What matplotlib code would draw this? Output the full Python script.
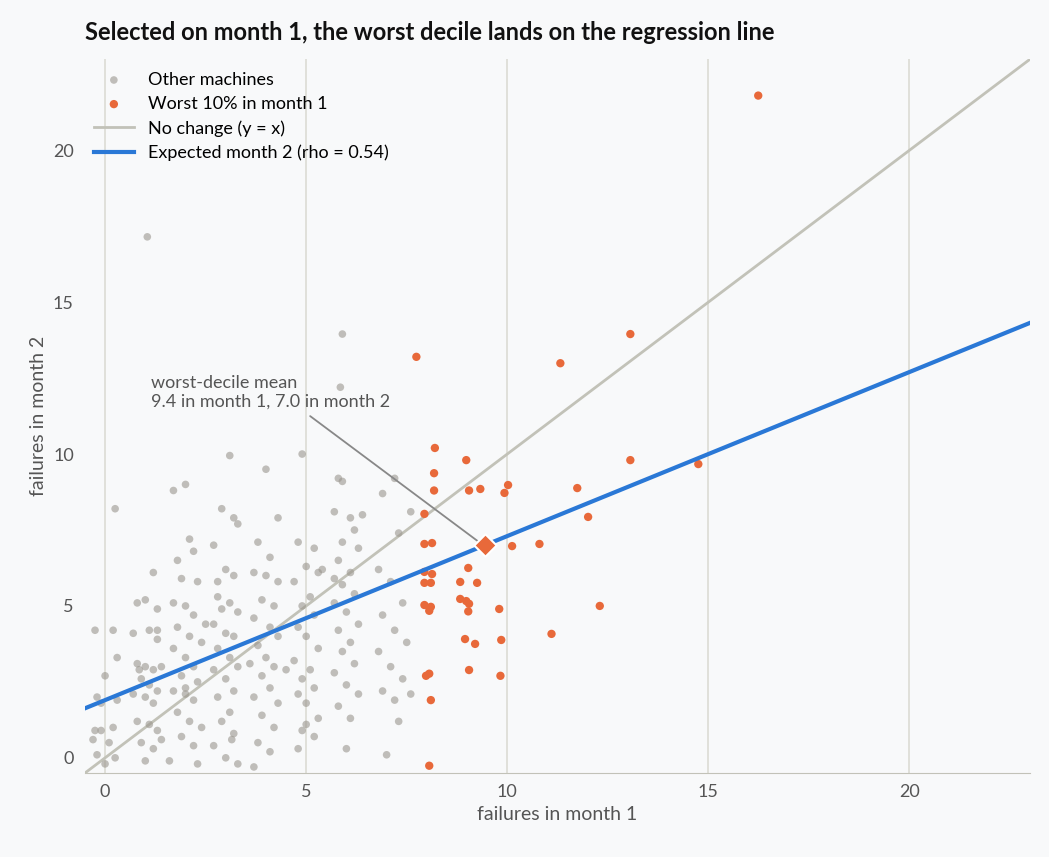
import numpy as np
import matplotlib.pyplot as plt

# worst 10% in month 1 (orange)
worst_x = [7.74, 13.06, 11.32, 16.24, 8.2, 8.98, 8.18, 8.18, 9.05, 9.33, 10.02, 9.93, 11.74, 13.06,
           14.75, 12.01, 7.94, 7.94, 8.13, 10.12, 10.8, 9.03, 7.94, 8.13, 7.94, 8.1, 8.83, 9.25,
           7.94, 8.1, 8.06, 8.83, 8.98, 9.05, 9.03, 9.8, 12.3, 11.1, 8.95, 9.2, 9.85, 9.05, 9.83,
           8.06, 7.98, 8.1, 8.06]
worst_y = [13.2, 13.95, 12.99, 21.8, 10.2, 9.8, 9.37, 8.8, 8.8, 8.85, 8.98, 8.72, 8.88, 9.8,
           9.67, 7.93, 8.03, 7.04, 7.07, 6.97, 7.04, 6.25, 6.12, 6.05, 5.76, 5.76, 5.79, 5.76,
           5.03, 4.97, 4.84, 5.23, 5.16, 5.07, 4.82, 4.9, 5.0, 4.08, 3.91, 3.75, 3.88, 2.89, 2.7,
           2.77, 2.7, 1.9, -0.26]

# other machines (gray)
other = [
    (-0.25, 4.2), (0.2, 4.2), (0.0, 2.7), (-0.2, 2.0), (0.3, 1.9), (-0.1, 0.9), (0.2, 1.0), (-0.3, 0.6),
    (0.1, 0.5), (-0.2, 0.1), (0.25, 0.0), (0.0, -0.2), (0.25, 8.2), (-0.1, 1.8), (0.3, 3.3), (-0.25, 0.9),
    (1.05, 17.15), (1.2, 6.1), (0.8, 5.1), (1.0, 5.2), (1.3, 4.9), (0.7, 4.1), (1.1, 4.2), (1.3, 3.9),
    (0.8, 3.1), (1.0, 3.0), (1.2, 2.9), (1.4, 3.0), (0.9, 2.6), (1.1, 2.4), (1.3, 2.2), (0.7, 2.1),
    (1.0, 2.0), (1.2, 1.8), (0.8, 1.2), (1.1, 1.1), (1.3, 0.9), (0.9, 0.5), (1.2, 0.3), (1.0, -0.1),
    (1.4, 0.6), (1.3, 4.2), (0.85, 2.9),
    (1.7, 8.8), (2.0, 9.0), (2.1, 7.2), (1.8, 6.5), (2.2, 6.8), (1.9, 5.9), (2.3, 5.8), (1.7, 5.1),
    (2.0, 5.0), (2.2, 4.7), (1.8, 4.3), (2.1, 4.0), (2.4, 3.8), (1.7, 3.6), (2.0, 3.3), (2.2, 3.0),
    (1.9, 2.7), (2.3, 2.5), (1.7, 2.2), (2.0, 2.1), (2.2, 1.9), (1.8, 1.5), (2.1, 1.2), (2.4, 1.0),
    (1.9, 0.7), (2.2, 0.4), (1.6, -0.1), (2.3, -0.2), (2.5, 4.4), (2.0, 2.3),
    (3.1, 9.95), (2.9, 8.2), (3.2, 7.9), (3.3, 7.7), (2.7, 7.0), (3.0, 6.2), (3.2, 6.0), (2.8, 5.8),
    (3.1, 5.1), (2.9, 4.9), (3.3, 4.8), (2.7, 4.4), (3.0, 4.1), (3.2, 4.0), (2.8, 3.6), (3.1, 3.3),
    (3.3, 3.0), (2.7, 2.9), (3.0, 2.6), (3.2, 2.2), (2.8, 2.0), (3.1, 1.5), (2.9, 1.2), (3.2, 0.8),
    (2.7, 0.4), (3.0, 0.0), (3.3, -0.2), (2.8, 5.3), (3.15, 0.6),
    (4.0, 9.5), (4.3, 7.9), (3.8, 7.1), (4.1, 6.6), (3.7, 6.1), (4.0, 6.0), (4.3, 5.8), (3.9, 5.2),
    (4.2, 5.0), (3.7, 4.6), (4.1, 4.3), (4.3, 4.0), (3.8, 3.7), (4.0, 3.3), (4.2, 3.0), (3.9, 2.7),
    (4.1, 2.3), (3.7, 2.0), (4.3, 1.8), (3.9, 1.4), (4.2, 1.0), (3.8, 0.5), (4.1, 0.2), (3.7, -0.3),
    (4.5, 2.9), (3.6, 3.1),
    (4.9, 10.0), (5.2, 6.9), (4.8, 7.1), (5.0, 6.3), (5.3, 6.1), (4.7, 5.8), (5.1, 5.3), (4.9, 5.0),
    (5.2, 4.7), (4.8, 4.3), (5.0, 4.0), (5.3, 3.6), (4.7, 3.2), (5.1, 2.9), (4.9, 2.6), (5.2, 2.3),
    (4.8, 2.1), (5.0, 1.8), (5.3, 1.3), (4.9, 0.9), (5.2, 0.7), (4.8, 0.3), (5.4, 6.2), (5.0, 1.1),
    (5.9, 13.95), (5.85, 12.2), (5.8, 9.2), (5.9, 9.1), (6.1, 7.9), (5.7, 8.1), (6.2, 7.5), (5.9, 7.1),
    (6.3, 6.9), (5.8, 6.5), (6.1, 6.1), (5.9, 5.7), (6.2, 5.4), (5.7, 5.1), (6.0, 4.8), (6.3, 4.4),
    (5.8, 4.2), (6.1, 3.8), (5.9, 3.5), (6.2, 3.1), (5.7, 2.8), (6.0, 2.4), (6.3, 2.1), (5.8, 1.7),
    (6.1, 1.3), (6.0, 0.3), (6.4, 8.0), (5.7, 5.9),
    (7.2, 9.2), (7.6, 8.1), (6.9, 8.7), (7.3, 7.4), (6.8, 6.2), (7.1, 5.8), (7.4, 5.1), (6.9, 4.7),
    (7.2, 4.2), (7.5, 3.8), (6.8, 3.5), (7.1, 3.0), (7.4, 2.6), (6.9, 2.2), (7.2, 1.9), (7.6, 2.1),
    (7.0, 0.1), (7.3, 1.2),
]
other_x = [p[0] for p in other]
other_y = [p[1] for p in other]

rho = 0.54
pop_mean = (4.0, 4.06)
decile_mean = (9.45, 7.0)

plt.rcParams['font.family'] = ['Lato', 'DejaVu Sans']
bg = '#f8f9fa'
fig = plt.figure(figsize=(10.49, 8.57), dpi=100, facecolor=bg)
ax = fig.add_axes([0.081, 0.098, 0.901, 0.833], facecolor=bg)

ax.scatter(other_x, other_y, s=30, color='#9a968e', alpha=0.6, edgecolors='none',
           label='Other machines', zorder=3)
ax.scatter(worst_x, worst_y, s=36, color='#e8693a', edgecolors='none',
           label='Worst 10% in month 1', zorder=4)

xs = np.array([-0.5, 23])
ax.plot(xs, xs, color='#c2c2b8', lw=2, label='No change (y = x)', zorder=2)
ax.plot(xs, pop_mean[1] + rho * (xs - pop_mean[0]), color='#2a78d6', lw=3,
        label='Expected month 2 (rho = 0.54)', zorder=5)

ax.scatter([decile_mean[0]], [decile_mean[1]], marker='D', s=130, color='#e8693a',
           edgecolors='white', linewidths=1.5, zorder=7)
ax.annotate('worst-decile mean\n9.4 in month 1, 7.0 in month 2',
            xy=(decile_mean[0] - 0.15, decile_mean[1] + 0.1), xytext=(1.15, 11.45),
            fontsize=13, color='#555555', va='bottom', ha='left',
            arrowprops=dict(arrowstyle='-', color='#888888', lw=1.3,
                            shrinkA=4, shrinkB=0, relpos=(0.63, 0.0)), zorder=6)

ax.set_xlim(-0.5, 23)
ax.set_ylim(-0.5, 23)
ax.set_xticks([0, 5, 10, 15, 20])
ax.set_yticks([0, 5, 10, 15, 20])
ax.grid(axis='x', color='#dcdcd4', lw=1.2, zorder=0)
ax.set_axisbelow(True)
for s in ['top', 'right', 'left']:
    ax.spines[s].set_visible(False)
ax.spines['bottom'].set_color('#c2c2b8')
ax.tick_params(length=0, labelsize=13, colors='#555555', pad=8)
ax.set_xlabel('failures in month 1', fontsize=14, color='#555555')
ax.set_ylabel('failures in month 2', fontsize=14, color='#555555')
ax.set_title('Selected on month 1, the worst decile lands on the regression line',
             loc='left', fontsize=17, fontweight='bold', color='#111111', pad=14)

leg = ax.legend(loc='upper left', frameon=False, fontsize=13, borderaxespad=0.1,
                handlelength=2.2, labelspacing=0.45, bbox_to_anchor=(0.0, 0.995))

fig.savefig('out.png', dpi=100, facecolor=bg)
